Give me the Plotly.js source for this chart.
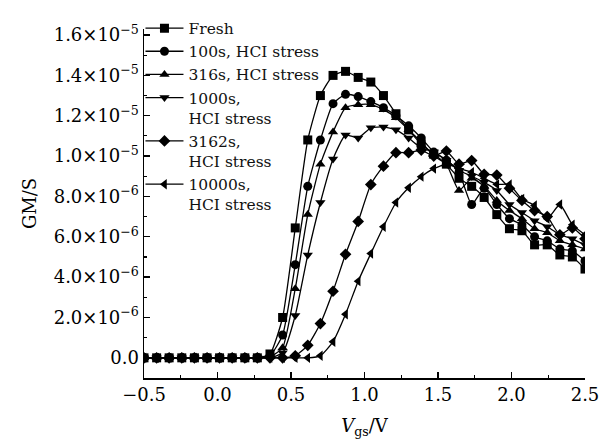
<!DOCTYPE html>
<html>
<head>
<meta charset="utf-8">
<script src="https://cdn.plot.ly/plotly-3.0.1.min.js"></script>
<style>html,body{margin:0;padding:0;background:#fff;}#chart{width:604px;height:439px;}</style>
</head>
<body>
<div id="chart"></div>
<script>
// Gate voltage grid (V)
var vgs = [-0.5, -0.414, -0.329, -0.243, -0.157, -0.071, 0.014, 0.1, 0.186, 0.271,
           0.357, 0.443, 0.529, 0.614, 0.7, 0.786, 0.871, 0.957, 1.043, 1.129,
           1.214, 1.3, 1.386, 1.471, 1.557, 1.643, 1.729, 1.814, 1.9, 1.986,
           2.071, 2.157, 2.243, 2.329, 2.414, 2.5];

// Transconductance (S), in units of 1e-6
var fresh   = [0,0,0,0,0,0,0,0,0,0, 0.19,2.0,6.44,10.8,13.0,14.0,14.2,13.9,13.67,13.0,
               12.1,11.3,10.6,10.1,9.6,8.9,8.5,7.95,7.1,6.4, 6.3,5.6,5.6,5.1,5.0,4.4];
var s100    = [0,0,0,0,0,0,0,0,0,0, 0.1,1.13,4.62,8.5,10.8,12.6,13.06,12.95,12.7,12.4,
               12.0,11.5,10.9,10.2,9.8,9.2,7.6,8.4,7.6,6.9, 6.6,6.0,5.8,5.4,5.3,4.8];
var s316    = [0,0,0,0,0,0,0,0,0,0, 0.05,0.5,3.43,7.1,9.6,11.2,12.4,12.55,12.55,12.3,
               11.9,11.3,10.7,10.0,9.6,8.3,8.9,8.5,7.8,7.3, 6.9,6.4,6.2,5.8,5.6,5.4];
var s1000   = [0,0,0,0,0,0,0,0,0,0, 0,0.25,2.1,5.1,7.7,9.86,11.05,10.9,11.4,11.44,
               11.3,10.9,10.4,10.2,9.8,9.3,9.0,8.7,8.3,7.6, 7.2,6.8,6.5,6.1,5.9,5.6];
var s3162   = [0,0,0,0,0,0,0,0,0,0, 0,0,0.1,0.62,1.7,3.3,5.13,6.76,8.59,9.5,
               10.17,10.17,10.3,10.0,10.25,9.6,9.78,9.1,9.06,8.4, 7.8,7.3,7.0,6.1,6.44,5.9];
var s10000  = [0,0,0,0,0,0,0,0,0,0, 0,0,0,0,0.1,0.8,2.16,3.8,5.17,6.5,
               7.7,8.43,8.98,9.38,9.6,9.4,9.2,8.9,8.6,8.59, 7.87,7.55,6.9,7.6,6.6,6.1];

var names   = ["Fresh", "100s, HCI stress", "316s, HCI stress",
               "1000s,<br>HCI stress", "3162s,<br>HCI stress", "10000s,<br>HCI stress"];
var symbols = ["square", "circle", "triangle-up", "triangle-down", "diamond", "triangle-left"];
var seriesList = [fresh, s100, s316, s1000, s3162, s10000];

var yTickVals = [0, 2e-6, 4e-6, 6e-6, 8e-6, 1.0e-5, 1.2e-5, 1.4e-5, 1.6e-5];
var yTickText = ["0.0", "2.0×10<sup>−6</sup>", "4.0×10<sup>−6</sup>", "6.0×10<sup>−6</sup>",
                 "8.0×10<sup>−6</sup>", "1.0×10<sup>−5</sup>", "1.2×10<sup>−5</sup>",
                 "1.4×10<sup>−5</sup>", "1.6×10<sup>−5</sup>"];

var FONT = "DejaVu Serif";
var traces = seriesList.map(function (s, i) {
  return {
    x: vgs,
    y: s.map(function (v) { return v * 1e-6; }),
    name: names[i],
    type: "scatter",
    mode: "lines+markers",
    line: {color: "#000", width: 1.3, shape: "spline", smoothing: 0.5},
    marker: {symbol: symbols[i], size: 9, color: "#000"},
    cliponaxis: true
  };
});

var layout = {
  width: 604, height: 439,
  margin: {l: 144, r: 19, t: 14, b: 61, pad: 0},
  paper_bgcolor: "#fff", plot_bgcolor: "#fff",
  font: {family: FONT, color: "#000", size: 15},
  showlegend: true,
  legend: {x: -0.008, y: 1.05, xanchor: "left", yanchor: "top", bgcolor: "rgba(0,0,0,0)",
           itemwidth: 38,
           font: {family: FONT, size: 15.5, color: "#111"}, valign: "top", tracegroupgap: 0},
  xaxis: {
    range: [-0.5, 2.5], showgrid: false, zeroline: false,
    showline: true, linecolor: "#000", linewidth: 1.5, mirror: false,
    ticks: "inside", ticklen: 6, tickwidth: 1.3, tickcolor: "#000",
    tickvals: [-0.5, 0, 0.5, 1, 1.5, 2, 2.5],
    ticktext: ["−0.5", "0.0", "0.5", "1.0", "1.5", "2.0", "2.5"],
    tickfont: {family: FONT, size: 18},
    minor: {dtick: 0.25, tick0: -0.5, ticks: "inside", ticklen: 3, tickwidth: 1.1, tickcolor: "#000", showgrid: false},
    title: {text: "<i>V</i><sub>gs</sub>/V", font: {family: FONT, size: 18}, standoff: 21}
  },
  yaxis: {
    range: [-1.0e-6, 1.63e-5], showgrid: false, zeroline: false,
    showline: true, linecolor: "#000", linewidth: 1.5, mirror: false,
    ticks: "inside", ticklen: 6, tickwidth: 1.3, tickcolor: "#000",
    tickvals: yTickVals, ticktext: yTickText,
    tickfont: {family: FONT, size: 18},
    minor: {dtick: 1e-6, tick0: 0, ticks: "inside", ticklen: 3, tickwidth: 1.1, tickcolor: "#000", showgrid: false},
    title: {text: "GM/S", font: {family: FONT, size: 18}, standoff: 12}
  }
};

Plotly.newPlot("chart", traces, layout, {displayModeBar: false, staticPlot: true});
</script>
</body>
</html>
